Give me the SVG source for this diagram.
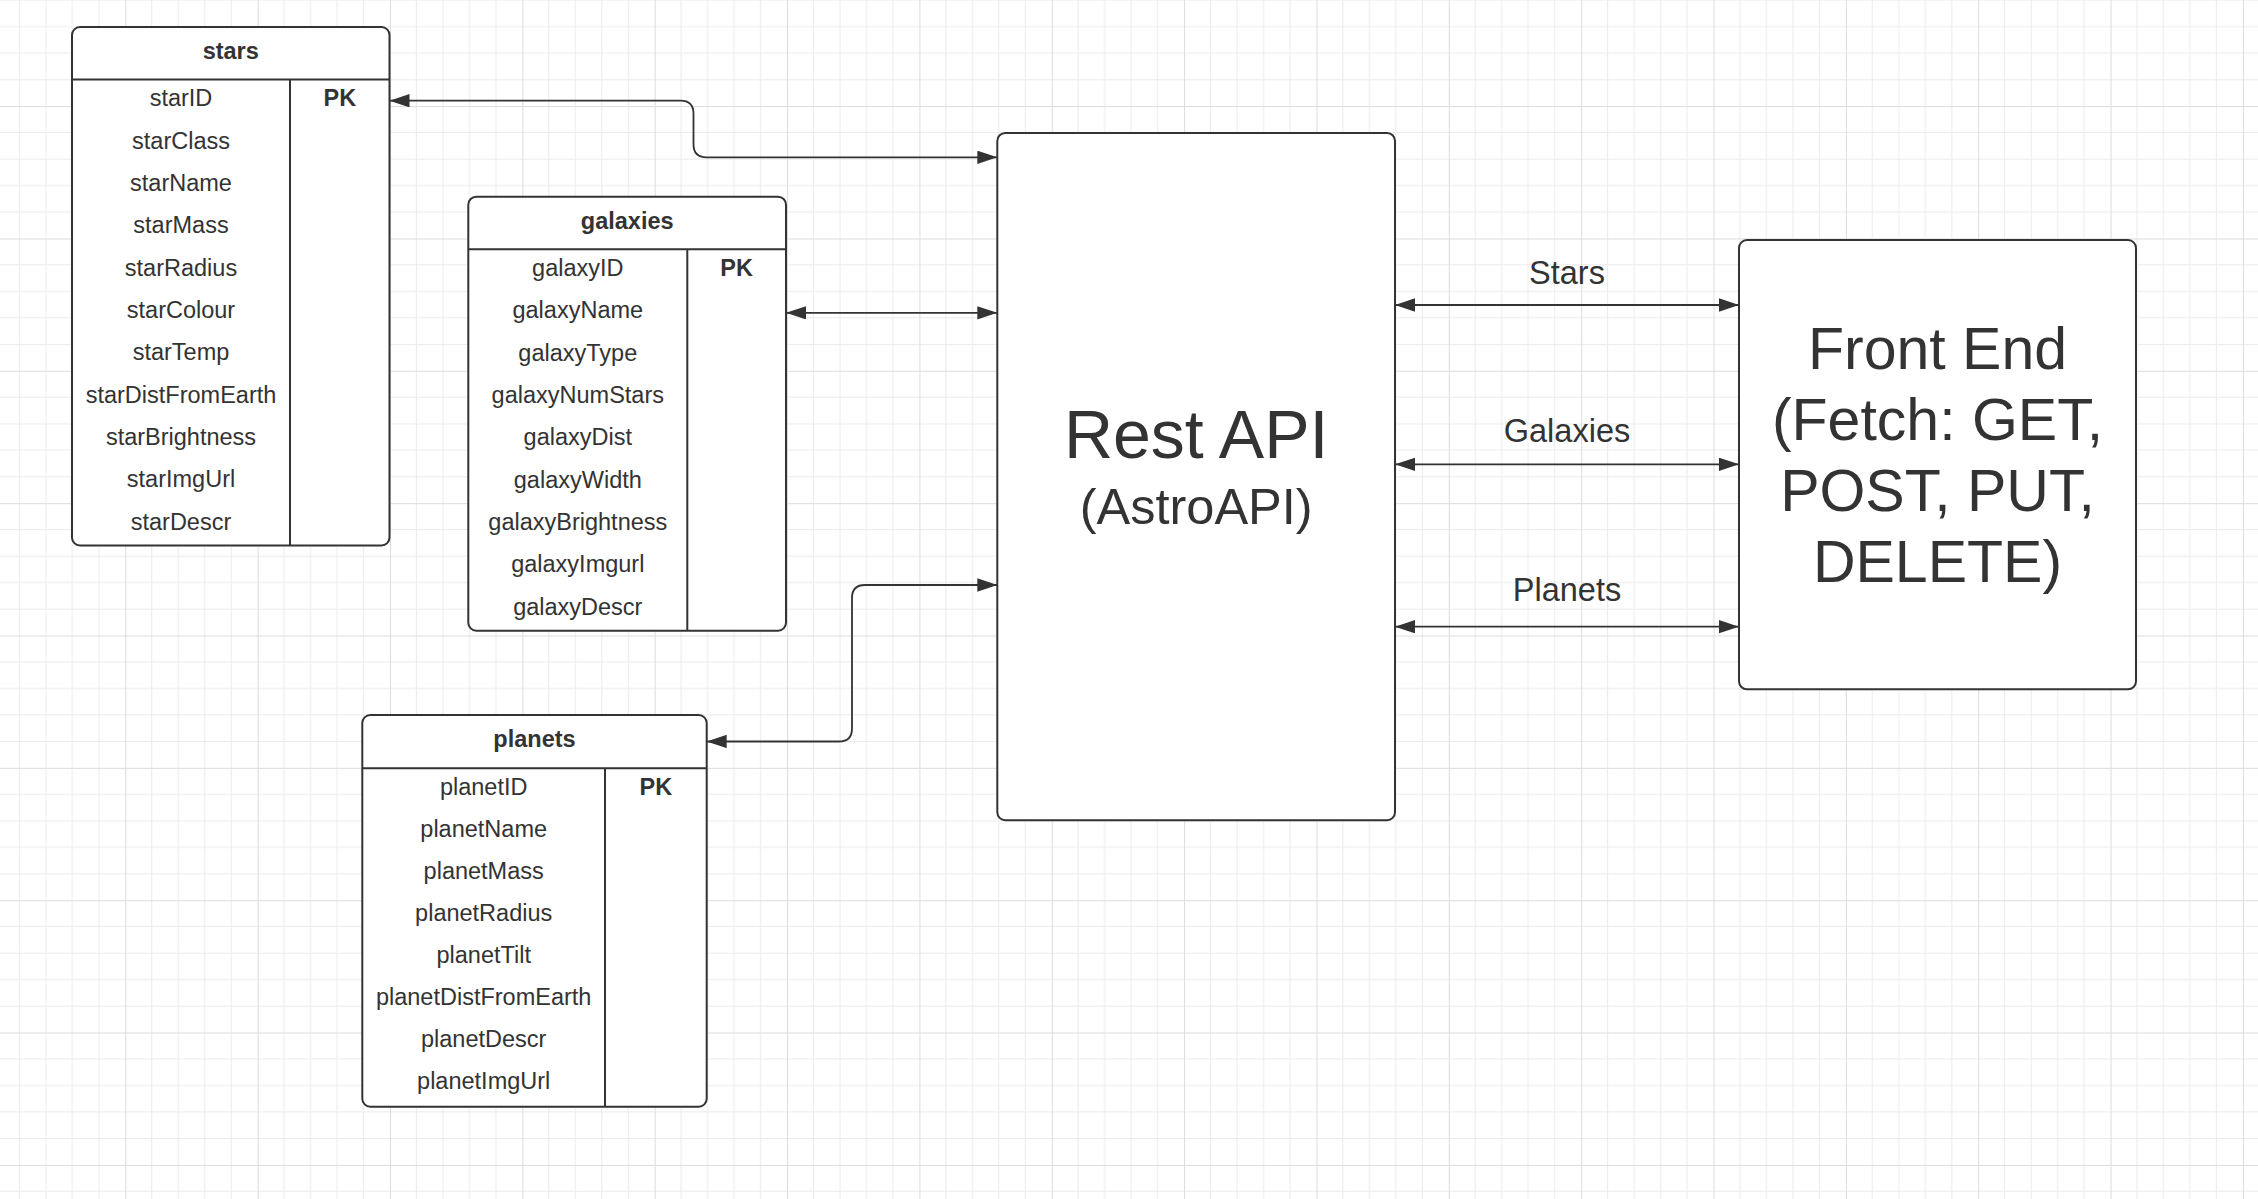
<svg xmlns="http://www.w3.org/2000/svg" width="2258" height="1199" viewBox="0 0 2258 1199">
<style>
.box{fill:#fff;stroke:#333;stroke-width:2}
.div{stroke:#333;stroke-width:2;fill:none}
.t{font-family:"Liberation Sans",Arial,sans-serif;fill:#333;text-anchor:middle}
.f{font-size:23.5px}
.b{font-size:23.5px;font-weight:bold}
.con{fill:none;stroke:#333;stroke-width:1.8;marker-start:url(#ah);marker-end:url(#ah)}
.lbl{font-size:32.5px}
</style>
<defs>
<pattern id="grid" x="125.3" y="106.1" width="132.35" height="132.35" patternUnits="userSpaceOnUse">
<path d="M26.47 0V132.35M52.94 0V132.35M79.41 0V132.35M105.88 0V132.35M0 26.47H132.35M0 52.94H132.35M0 79.41H132.35M0 105.88H132.35" stroke="#ebebeb" stroke-width="1" fill="none"/>
<path d="M0.5 0V132.35M0 0.5H132.35" stroke="#dcdcdc" stroke-width="1" fill="none"/>
</pattern>
<marker id="ah" markerUnits="userSpaceOnUse" markerWidth="21" markerHeight="14" refX="20" refY="6.65" orient="auto-start-reverse" viewBox="0 0 21 14">
<path d="M0 0L20 6.65L0 13.3z" fill="#333"/>
</marker>
</defs>
<rect width="2258" height="1199" fill="#fff"/>
<rect width="2258" height="1199" fill="url(#grid)"/>

<g id="connectors">
<path class="con" d="M389.5 100.7H680.5Q693.5 100.7 693.5 113.7V144.3Q693.5 157.3 706.5 157.3H997.3"/>
<path class="con" d="M786 312.8H997.3"/>
<path class="con" d="M706.7 741.5H839Q852 741.5 852 728.5V598Q852 585 865 585H997.3"/>
<path class="con" d="M1395 305H1739"/>
<path class="con" d="M1395 464.3H1739"/>
<path class="con" d="M1395 626.7H1739"/>
<text class="t lbl" x="1567" y="284.3">Stars</text>
<text class="t lbl" x="1567" y="441.7">Galaxies</text>
<text class="t lbl" x="1567" y="601">Planets</text>
</g>

<g id="stars">
<rect class="box" x="72" y="27" width="317.5" height="518.5" rx="8"/>
<path class="div" d="M72 79.5H389.5M290 79.5V545.5"/>
<text class="t b" x="230.75" y="58.9">stars</text>
<text class="t b" x="339.8" y="106.2">PK</text>
<g class="t f">
<text x="181" y="106.2">starID</text>
<text x="181" y="148.5">starClass</text>
<text x="181" y="190.9">starName</text>
<text x="181" y="233.2">starMass</text>
<text x="181" y="275.6">starRadius</text>
<text x="181" y="317.9">starColour</text>
<text x="181" y="360.3">starTemp</text>
<text x="181" y="402.6">starDistFromEarth</text>
<text x="181" y="445">starBrightness</text>
<text x="181" y="487.3">starImgUrl</text>
<text x="181" y="529.7">starDescr</text>
</g>
</g>

<g id="galaxies">
<rect class="box" x="468.3" y="196.7" width="317.7" height="434" rx="8"/>
<path class="div" d="M468.3 249.3H786M687.3 249.3V630.7"/>
<text class="t b" x="627.2" y="228.5">galaxies</text>
<text class="t b" x="736.7" y="276">PK</text>
<g class="t f">
<text x="577.8" y="276">galaxyID</text>
<text x="577.8" y="318.3">galaxyName</text>
<text x="577.8" y="360.7">galaxyType</text>
<text x="577.8" y="403">galaxyNumStars</text>
<text x="577.8" y="445.4">galaxyDist</text>
<text x="577.8" y="487.7">galaxyWidth</text>
<text x="577.8" y="530.1">galaxyBrightness</text>
<text x="577.8" y="572.4">galaxyImgurl</text>
<text x="577.8" y="614.8">galaxyDescr</text>
</g>
</g>

<g id="planets">
<rect class="box" x="362.3" y="715" width="344.4" height="391.7" rx="8"/>
<path class="div" d="M362.3 768.3H706.7M605 768.3V1106.7"/>
<text class="t b" x="534.5" y="747">planets</text>
<text class="t b" x="655.9" y="794.5">PK</text>
<g class="t f">
<text x="483.7" y="794.5">planetID</text>
<text x="483.7" y="836.6">planetName</text>
<text x="483.7" y="878.7">planetMass</text>
<text x="483.7" y="920.8">planetRadius</text>
<text x="483.7" y="962.9">planetTilt</text>
<text x="483.7" y="1005">planetDistFromEarth</text>
<text x="483.7" y="1047.1">planetDescr</text>
<text x="483.7" y="1089.2">planetImgUrl</text>
</g>
</g>

<g id="rest-api">
<rect class="box" x="997.3" y="132.9" width="397.7" height="687.3" rx="8"/>
<text class="t" x="1196.2" y="458" font-size="68">Rest API</text>
<text class="t" x="1196.2" y="524" font-size="50.5">(AstroAPI)</text>
</g>

<g id="front-end">
<rect class="box" x="1739" y="240" width="397" height="449.3" rx="8"/>
<g class="t" font-size="59">
<text x="1937.5" y="369">Front End</text>
<text x="1937.5" y="440">(Fetch: GET,</text>
<text x="1937.5" y="510.5">POST, PUT,</text>
<text x="1937.5" y="581.5">DELETE)</text>
</g>
</g>
</svg>
